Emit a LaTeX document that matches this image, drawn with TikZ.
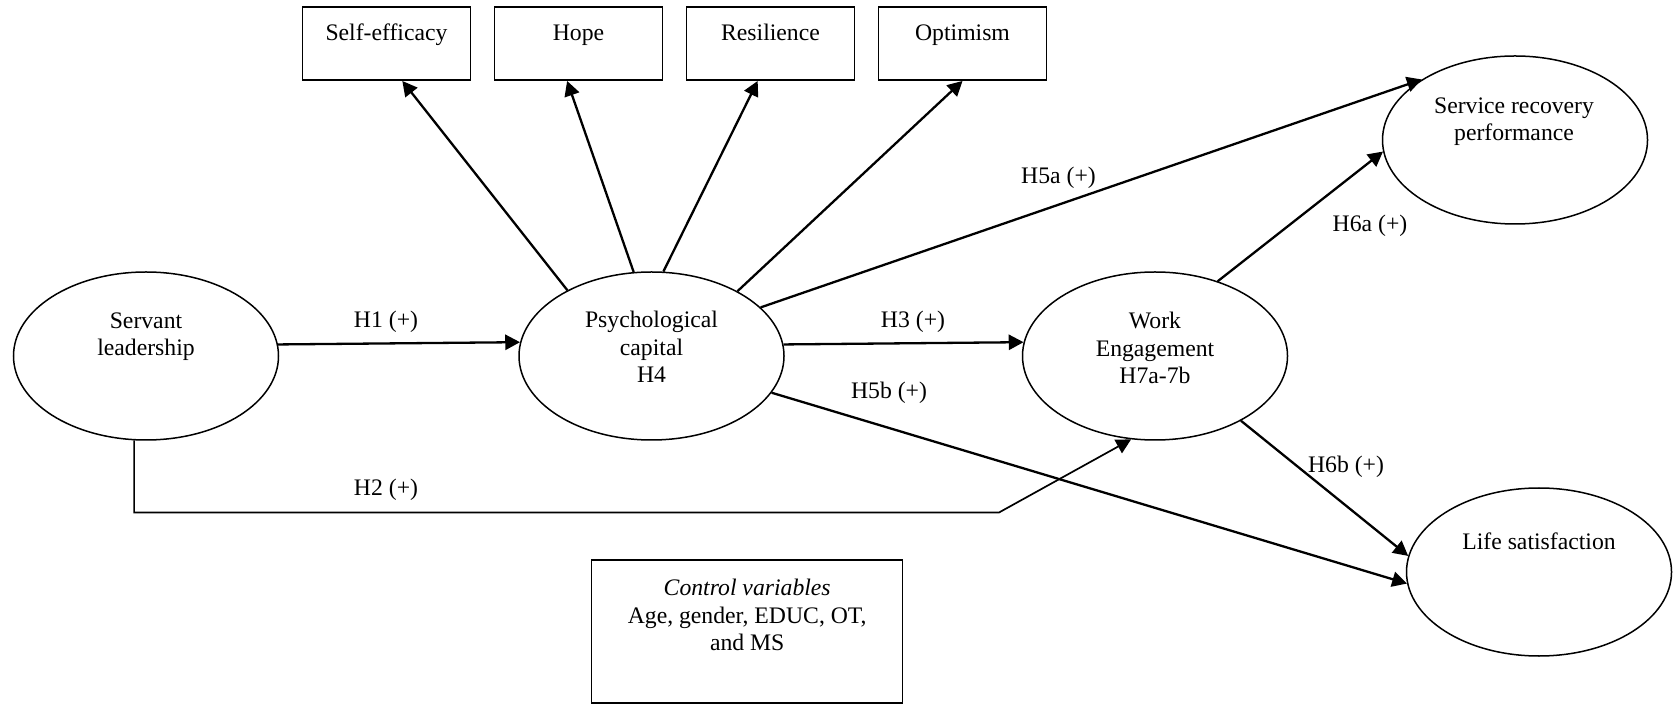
\documentclass[tikz,border=0pt]{standalone}
\usepackage{fontspec}
\setmainfont{Liberation Serif}
\usetikzlibrary{arrows.meta,shapes.geometric}
\begin{document}
\begin{tikzpicture}[x=0.5pt,y=-0.5pt,
  latent/.style={draw,line width=0.75pt,ellipse,minimum width=132.5pt,minimum height=84pt,inner sep=0pt},
  indic/.style={draw,line width=0.75pt,rectangle,minimum width=84pt,minimum height=36.5pt,inner sep=0pt},
  txt/.style={inner sep=0pt,align=center,font=\fontsize{11.85}{13.7}\selectfont},
  arr/.style={line width=1.15pt,-{Triangle[length=7.4pt,width=7.6pt]}},
  arrthin/.style={line width=0.85pt,-{Triangle[length=7.4pt,width=7.6pt]}}]
\useasboundingbox (0,0) rectangle (1673,704);
% latent variables
\node[latent] (sl)  at (146,356) {};
\node[latent] (pc)  at (651.5,356) {};
\node[latent] (we)  at (1155,356) {};
\node[latent] (srp) at (1515,140) {};
\node[latent] (ls)  at (1539,572) {};
% indicator boxes
\node[indic] (se)   at (386.5,43.7) {};
\node[indic] (hope) at (578.5,43.7) {};
\node[indic] (res)  at (770.5,43.7) {};
\node[indic] (opt)  at (962.5,43.7) {};
% control box
\node[draw,line width=0.75pt,rectangle,minimum width=155.5pt,minimum height=71.5pt,inner sep=0pt] (ctrl) at (747.2,631.5) {};
% texts
\node[txt,anchor=north] (slt)  at (146,312) {Servant\\leadership};
\node[txt,anchor=north] (pct)  at (651.5,311) {Psychological\\capital\\H4};
\node[txt,anchor=north] (wet)  at (1155,312) {Work\\Engagement\\H7a-7b};
\node[txt,anchor=north] (srpt) at (1514,97) {Service recovery\\performance};
\node[txt,anchor=base]  (lst)  at (1539,549) {Life satisfaction};
\node[txt,anchor=base]  (set)  at (386.5,40.5) {Self-efficacy};
\node[txt,anchor=base]  (hopet) at (578.5,40.5) {Hope};
\node[txt,anchor=base]  (rest) at (770.5,40.5) {Resilience};
\node[txt,anchor=base]  (optt) at (962.5,40.5) {Optimism};
\node[txt,anchor=north] (ctrlt) at (747.2,579) {\textit{Control variables}\\Age, gender, EDUC, OT,\\and MS};
% connectors
\draw[arr] (pc.142) -- (se.-67);
\draw[arr] (pc.102) -- (hope.-107.5);
\draw[arr] (pc.82.5) -- (res.-109);
\draw[arr] (pc.37.3) -- (opt.south);
\draw[arr] (sl.5.2) -- (pc.174.8);
\draw[arr] (pc.5.2) -- (we.174.8);
\draw[arr] (pc.24) -- (srp.147);
\draw[arr] (pc.-17) -- (ls.185.6);
\draw[arr] (we.50) -- (srp.185.7);
\draw[arr] (we.-37) -- (ls.173.9);
\coordinate (h2b) at (999,512.5);
\draw[arrthin] (sl.-98.2) |- (h2b) -- (we.-106);
% labels
\node[txt] (lh1)  at (386,322) {H1 (+)};
\node[txt] (lh2)  at (386,490) {H2 (+)};
\node[txt] (lh3)  at (913,322) {H3 (+)};
\node[txt] (lh5a) at (1058.5,178) {H5a (+)};
\node[txt] (lh5b) at (889,393) {H5b (+)};
\node[txt] (lh6a) at (1370,226) {H6a (+)};
\node[txt] (lh6b) at (1346,467) {H6b (+)};
\end{tikzpicture}
\end{document}
